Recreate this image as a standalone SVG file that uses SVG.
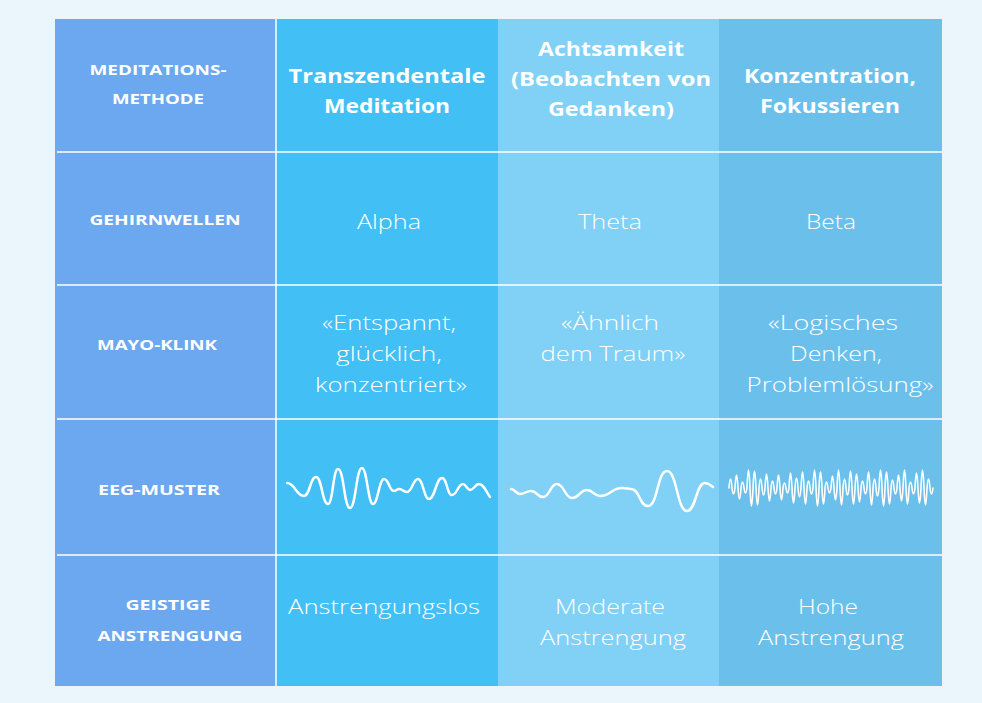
<svg xmlns="http://www.w3.org/2000/svg" width="982" height="703" viewBox="0 0 982 703">
<style>
.h{font-family:"Open Sans",Lato,sans-serif;font-weight:700;font-size:19px;fill:#fff;text-anchor:middle}
.l{font-family:"Open Sans",Lato,sans-serif;font-weight:700;font-size:15px;fill:#fff;text-anchor:middle}
.t{font-family:"Open Sans",Lato,sans-serif;font-weight:300;font-size:21px;fill:#fff;text-anchor:middle}
.w{fill:none;stroke:#fff;stroke-width:2.5;stroke-linecap:round}
.sep{stroke:#fff;stroke-width:1.5}
</style>
<rect width="982" height="703" fill="#eaf6fc"/>
<g id="columns">
<rect x="55" y="19" width="221" height="667" fill="#6ca8ef"/>
<rect x="276" y="19" width="222" height="667" fill="#42bff4"/>
<rect x="498" y="19" width="221" height="667" fill="#80d1f5"/>
<rect x="719" y="19" width="223" height="667" fill="#6bc0eb"/>
</g>
<g id="lines">
<line class="sep" x1="57" y1="152" x2="942" y2="152"/>
<line class="sep" x1="57" y1="285" x2="942" y2="285"/>
<line class="sep" x1="57" y1="419" x2="942" y2="419"/>
<line class="sep" x1="57" y1="555" x2="942" y2="555"/>
<line class="sep" x1="276" y1="19" x2="276" y2="686"/>
</g>
<g id="header">
<text class="l" x="158" y="75" textLength="137" lengthAdjust="spacingAndGlyphs">MEDITATIONS-</text>
<text class="l" x="158" y="104" textLength="92" lengthAdjust="spacingAndGlyphs">METHODE</text>
<text class="h" x="387" y="83" textLength="197" lengthAdjust="spacingAndGlyphs">Transzendentale</text>
<text class="h" x="387" y="113" textLength="126" lengthAdjust="spacingAndGlyphs">Meditation</text>
<text class="h" x="611" y="56" textLength="146" lengthAdjust="spacingAndGlyphs">Achtsamkeit</text>
<text class="h" x="611" y="86" textLength="200" lengthAdjust="spacingAndGlyphs">(Beobachten von</text>
<text class="h" x="611" y="116" textLength="126" lengthAdjust="spacingAndGlyphs">Gedanken)</text>
<text class="h" x="830" y="83" textLength="172" lengthAdjust="spacingAndGlyphs">Konzentration,</text>
<text class="h" x="830" y="113" textLength="140" lengthAdjust="spacingAndGlyphs">Fokussieren</text>
</g>
<g id="row-gehirnwellen">
<text class="l" x="165" y="225" textLength="151" lengthAdjust="spacingAndGlyphs">GEHIRNWELLEN</text>
<text class="t" x="389" y="229" textLength="64" lengthAdjust="spacingAndGlyphs">Alpha</text>
<text class="t" x="610" y="229" textLength="64" lengthAdjust="spacingAndGlyphs">Theta</text>
<text class="t" x="831" y="229" textLength="50" lengthAdjust="spacingAndGlyphs">Beta</text>
</g>
<g id="row-mayo">
<text class="l" x="157" y="350" textLength="120" lengthAdjust="spacingAndGlyphs">MAYO-KLINK</text>
<text class="t" x="389" y="330" textLength="134" lengthAdjust="spacingAndGlyphs">«Entspannt,</text>
<text class="t" x="389" y="361" textLength="106" lengthAdjust="spacingAndGlyphs">glücklich,</text>
<text class="t" x="391" y="392" textLength="152" lengthAdjust="spacingAndGlyphs">konzentriert»</text>
<text class="t" x="610" y="330" textLength="98" lengthAdjust="spacingAndGlyphs">«Ähnlich</text>
<text class="t" x="613" y="361" textLength="145" lengthAdjust="spacingAndGlyphs">dem Traum»</text>
<text class="t" x="833" y="330" textLength="130" lengthAdjust="spacingAndGlyphs">«Logisches</text>
<text class="t" x="836" y="361" textLength="92" lengthAdjust="spacingAndGlyphs">Denken,</text>
<text class="t" x="840" y="392" textLength="187" lengthAdjust="spacingAndGlyphs">Problemlösung»</text>
</g>
<g id="row-eeg">
<text class="l" x="159" y="495" textLength="122" lengthAdjust="spacingAndGlyphs">EEG-MUSTER</text>
<path class="w" d="M287,483 C295,483 296,496 304,496 C310,496 310,477 316,477 C322,477 322,504 328,504 C333,504 333,469 338,469 C344,469 344,508 350,508 C356,508 356,468 362,468 C367,468 368,504 373,504 C378,504 379,479 384,479 C389,479 389,491 394,491 C396,491 397,489 399,489 C403,489 403,492 407,492 C412,492 413,479 418,479 C423,479 424,499 429,499 C435,499 436,478 442,478 C447,478 447,495 452,495 C457,495 458,484 463,484 C466,484 467,490 470,490 C474,490 475,484 479,484 C484,484 486,492 490,497"/>
<path class="w" d="M511,489 C515,489 516,494 520,494 C525,494 526,491 531,491 C537,491 537,497 543,497 C550,497 550,484 557,484 C564,484 565,498 572,498 C579,498 580,490 587,490 C593,490 594,496 600,496 C611,496 611,488 622,488 C627,488 627,489 631,489 C640,489 639,506 648,506 C658,506 657,471 667,471 C677,471 677,511 687,511 C696,511 696,483 705,483 C709,483 710,485 713,487"/>
<path class="w" style="stroke-width:1.6" d="M729,488 Q730.5,470 732,488 Q733.5,500 735,488 Q736.5,462 738,488 Q739.5,510 741,488 Q742.5,476 744,488 Q745.5,498 747,488 Q748.5,452 750,488 Q751.5,524 753,488 Q754.5,454 756,488 Q757.5,522 759,488 Q760.5,470 762,488 Q763.5,502 765,488 Q766.5,460 768,488 Q769.5,514 771,488 Q772.5,474 774,488 Q775.5,500 777,488 Q778.5,462 780,488 Q781.5,512 783,488 Q784.5,478 786,488 Q787.5,498 789,488 Q790.5,458 792,488 Q793.5,518 795,488 Q796.5,468 798,488 Q799.5,506 801,488 Q802.5,456 804,488 Q805.5,520 807,488 Q808.5,474 810,488 Q811.5,500 813,488 Q814.5,452 816,488 Q817.5,524 819,488 Q820.5,456 822,488 Q823.5,520 825,488 Q826.5,476 828,488 Q829.5,498 831,488 Q832.5,464 834,488 Q835.5,512 837,488 Q838.5,452 840,488 Q841.5,522 843,488 Q844.5,470 846,488 Q847.5,502 849,488 Q850.5,454 852,488 Q853.5,520 855,488 Q856.5,460 858,488 Q859.5,516 861,488 Q862.5,474 864,488 Q865.5,500 867,488 Q868.5,456 870,488 Q871.5,522 873,488 Q874.5,470 876,488 Q877.5,504 879,488 Q880.5,452 882,488 Q883.5,524 885,488 Q886.5,456 888,488 Q889.5,520 891,488 Q892.5,472 894,488 Q895.5,500 897,488 Q898.5,462 900,488 Q901.5,514 903,488 Q904.5,452 906,488 Q907.5,520 909,488 Q910.5,476 912,488 Q913.5,500 915,488 Q916.5,458 918,488 Q919.5,518 921,488 Q922.5,452 924,488 Q925.5,522 927,488 Q928.5,470 930,488 Q931.5,500 933,488"/>
</g>
<g id="row-anstrengung">
<text class="l" x="168" y="610" textLength="85" lengthAdjust="spacingAndGlyphs">GEISTIGE</text>
<text class="l" x="170" y="641" textLength="145" lengthAdjust="spacingAndGlyphs">ANSTRENGUNG</text>
<text class="t" x="384" y="614" textLength="192" lengthAdjust="spacingAndGlyphs">Anstrengungslos</text>
<text class="t" x="610" y="614" textLength="110" lengthAdjust="spacingAndGlyphs">Moderate</text>
<text class="t" x="613" y="645" textLength="146" lengthAdjust="spacingAndGlyphs">Anstrengung</text>
<text class="t" x="828" y="614" textLength="60" lengthAdjust="spacingAndGlyphs">Hohe</text>
<text class="t" x="831" y="645" textLength="146" lengthAdjust="spacingAndGlyphs">Anstrengung</text>
</g>
</svg>
